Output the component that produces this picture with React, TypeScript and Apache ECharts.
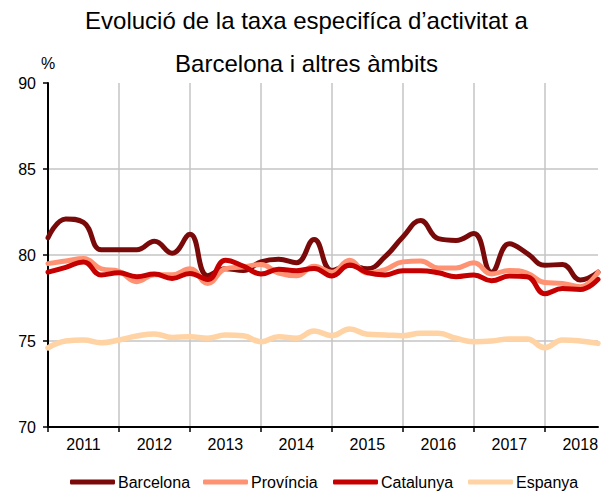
import React, { useEffect, useRef } from "react";
import * as echarts from "echarts";

const years = ["2011", "2012", "2013", "2014", "2015", "2016", "2017", "2018"];
const quarters = ["T1", "T2", "T3", "T4"];
const categories: string[] = [];
years.forEach((y) => quarters.forEach((q) => categories.push(y + " " + q)));

const barcelona = [81.0, 82.1, 81.9, 80.3, 80.3, 80.3, 80.8, 80.1, 81.2, 78.8, 79.2, 79.1, 79.6, 79.75, 79.55, 80.9,
  79.1, 79.4, 79.2, 79.9, 81.05, 82.0, 80.95, 80.85, 81.25, 79.0, 80.65, 80.1, 79.4, 79.45, 78.55, 79.0];
const provincia = [79.5, 79.65, 79.8, 79.2, 79.05, 78.45, 78.85, 78.85, 79.2, 78.35, 79.2, 79.3, 79.45, 78.95, 78.8, 79.35,
  79.0, 79.7, 78.95, 79.15, 79.6, 79.65, 79.25, 79.25, 79.55, 78.9, 79.1, 78.95, 78.4, 78.35, 78.15, 79.0];
const catalunya = [79.0, 79.28, 79.6, 78.84, 78.97, 78.74, 78.9, 78.64, 78.93, 78.58, 79.7, 79.36, 78.9, 79.17, 79.09, 79.22,
  78.78, 79.42, 78.97, 78.84, 79.09, 79.09, 78.97, 78.74, 78.84, 78.5, 78.78, 78.74, 77.75, 78.05, 78.0, 78.58];
const espanya = [74.6, 75.0, 75.06, 74.9, 75.06, 75.29, 75.41, 75.21, 75.25, 75.16, 75.35, 75.31, 74.96, 75.25, 75.16, 75.58,
  75.31, 75.7, 75.39, 75.35, 75.31, 75.45, 75.45, 75.16, 74.96, 75.0, 75.12, 75.12, 74.61, 75.06, 75.0, 74.86];

const seriesNames = ["Barcelona", "Província", "Catalunya", "Espanya"];
const seriesData = [barcelona, provincia, catalunya, espanya];
const colors = ["#7a0a0a", "#ff9272", "#c60000", "#ffd3a3"];
const lineWidths = [5, 5, 5, 5.5];
const legendLeft = [70, 203, 333, 468];

const FONT = "'Liberation Sans', Arial, sans-serif";

export default function App() {
  const ref = useRef<HTMLDivElement>(null);
  useEffect(() => {
    const chart = echarts.init(ref.current!, null, { renderer: "svg" });
    chart.setOption({
      animation: false,
      textStyle: { fontFamily: FONT },
      title: {
        text: "Evolució de la taxa especifíca d’activitat a\nBarcelona i altres àmbits",
        left: "center",
        top: -1,
        padding: 0,
        textStyle: { fontSize: 24, fontWeight: "normal", color: "#000", lineHeight: 43, fontFamily: FONT },
      },
      graphic: [
        { type: "text", left: 41, top: 55, style: { text: "%", fontSize: 16, fill: "#000", fontFamily: FONT } },
      ],
      legend: seriesNames.map((n, i) => ({
        data: [n],
        left: legendLeft[i],
        top: 474,
        padding: 0,
        icon: "roundRect",
        itemWidth: 45,
        itemHeight: 5,
        itemGap: 4,
        textStyle: { fontSize: 16, color: "#000", fontFamily: FONT, padding: [0, 0, 0, -2] },
      })),
      grid: { left: 48, right: 15, top: 83, bottom: 65, containLabel: false },
      xAxis: {
        type: "category",
        data: categories,
        boundaryGap: false,
        axisLine: { lineStyle: { color: "#000", width: 2 } },
        axisTick: { show: true, inside: false, length: 5, interval: (i: number) => i % 4 === 0, lineStyle: { color: "#000", width: 1.5 } },
        axisLabel: {
          interval: (i: number) => i % 4 === 2,
          formatter: (v: string) => v.slice(0, 4),
          fontSize: 16,
          color: "#000",
          margin: 9,
          fontFamily: FONT,
        },
        splitLine: { show: true, interval: (i: number) => i % 4 === 0 && i > 0, lineStyle: { color: "#c4c4c4", width: 1.5 } },
      },
      yAxis: {
        type: "value",
        min: 70,
        max: 90,
        interval: 5,
        axisLine: { show: true, lineStyle: { color: "#000", width: 2 } },
        axisTick: { show: true, inside: false, length: 5, lineStyle: { color: "#000", width: 1.5 } },
        axisLabel: { fontSize: 16, color: "#000", margin: 12, fontFamily: FONT },
        splitLine: { show: true, showMaxLine: false, lineStyle: { color: "#c4c4c4", width: 1.5 } },
      },
      series: seriesNames.map((n, i) => ({
        name: n,
        type: "line",
        data: seriesData[i],
        smooth: 0.45,
        showSymbol: false,
        symbol: "none",
        color: colors[i],
        lineStyle: { width: lineWidths[i], color: colors[i], cap: "round", join: "round" },
      })),
    });
    return () => chart.dispose();
  }, []);
  return <div ref={ref} style={{ position: "absolute", left: 0, top: 0, width: 613, height: 492 }} />;
}
